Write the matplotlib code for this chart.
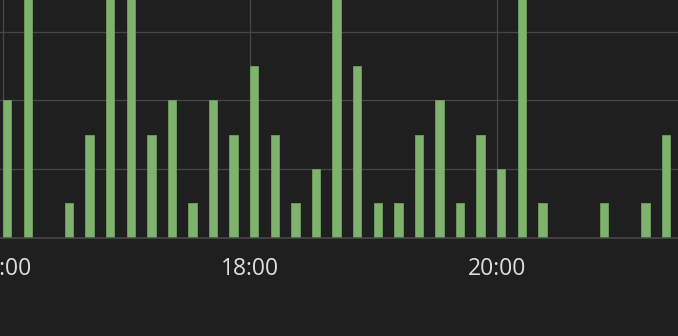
import matplotlib
matplotlib.use("Agg")
import matplotlib.pyplot as plt
import matplotlib.dates as mdates
from datetime import datetime, timedelta

# 10-minute bins starting at 16:00
times = ["16:00", "16:10", "16:20", "16:30", "16:40", "16:50",
         "17:00", "17:10", "17:20", "17:30", "17:40", "17:50",
         "18:00", "18:10", "18:20", "18:30", "18:40", "18:50",
         "19:00", "19:10", "19:20", "19:30", "19:40", "19:50",
         "20:00", "20:10", "20:20", "20:30", "20:40", "20:50",
         "21:00", "21:10", "21:20"]
values = [4, 8, 0, 1, 3, 8, 8, 3, 4, 1, 4, 3,
          5, 3, 1, 2, 8, 5, 1, 1, 3, 4, 1, 3,
          2, 8, 1, 0, 0, 1, 0, 1, 3]
tick_labels = ["16:00", "18:00", "20:00"]

day = "2024-01-01 "
xs = [datetime.strptime(day + t, "%Y-%m-%d %H:%M") for t in times]
ticks = [datetime.strptime(day + t, "%Y-%m-%d %H:%M") for t in tick_labels]

BG = "#201f20"
fig = plt.figure(figsize=(6.78, 3.36), dpi=100, facecolor=BG)
ax = fig.add_axes([0, (336 - 237.5) / 336, 1, 237.5 / 336])
ax.set_facecolor(BG)

width = timedelta(minutes=4.1)
ax.bar(xs, values, width=width, align="edge", color="#7eb26d",
       edgecolor="#6f9f60", linewidth=0.6, zorder=3)

t0 = ticks[0]
ax.set_xlim(t0 - timedelta(minutes=1.46), t0 + timedelta(minutes=327.9))
ax.set_ylim(0, 6.92)
ax.set_yticks([2, 4, 6])
ax.set_xticks(ticks)
ax.xaxis.set_major_formatter(mdates.DateFormatter("%H:%M"))

ax.grid(True, color="#474747", linewidth=0.9, zorder=0)
for s in ["top", "right", "left"]:
    ax.spines[s].set_visible(False)
ax.spines["bottom"].set_color("#4a4a4a")
ax.spines["bottom"].set_linewidth(1.1)
ax.spines["bottom"].set_zorder(4)

ax.tick_params(axis="y", left=False, labelleft=False)
ax.tick_params(axis="x", length=0, pad=14, labelcolor="#dcdddf")
for lab in ax.get_xticklabels():
    lab.set_fontfamily("Open Sans")
    lab.set_fontsize(16.5)

fig.savefig("out.png", dpi=100, facecolor=BG)
